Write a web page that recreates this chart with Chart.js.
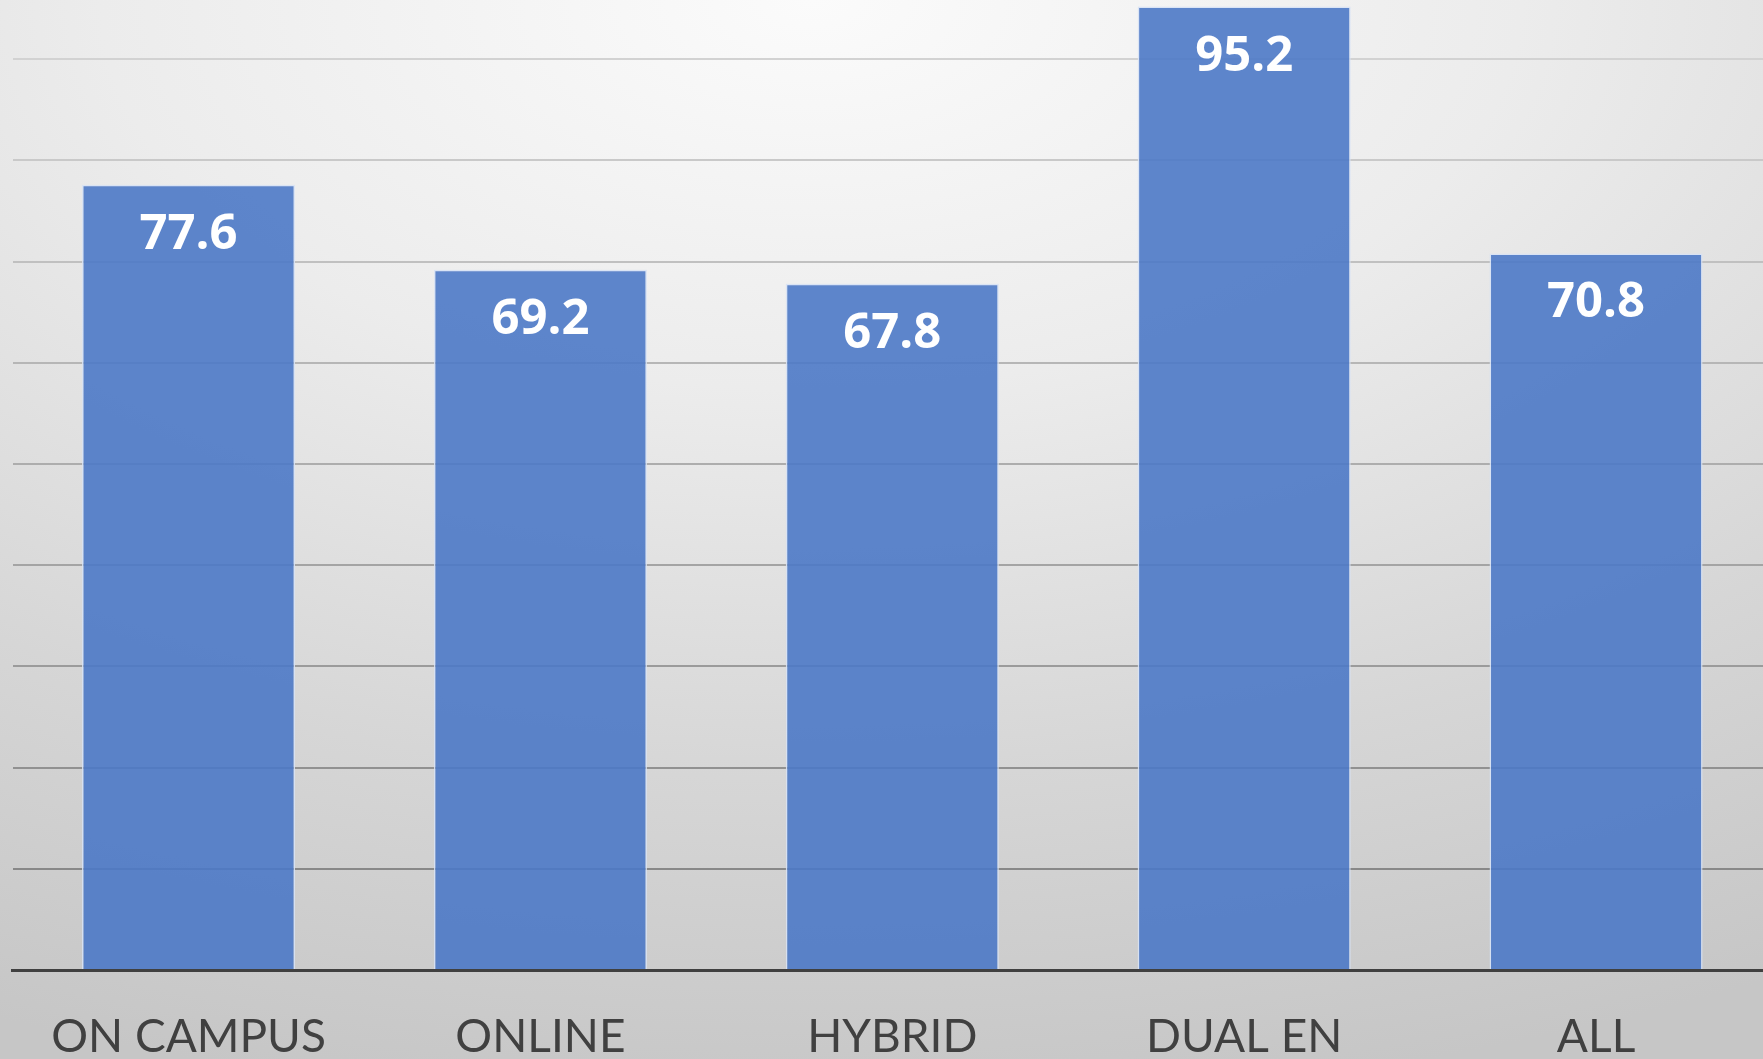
<!DOCTYPE html>
<html>
<head>
<meta charset="utf-8">
<script src="https://cdn.jsdelivr.net/npm/chart.js@4"></script>
<style>
  html, body { margin: 0; padding: 0; width: 1763px; height: 1059px; overflow: hidden; }
  body { background: radial-gradient(ellipse 115% 105% at 46% 0%, #fbfbfb 0%, #ececec 35%, #d6d6d6 70%, #c6c6c6 100%); }
  #wrap { position: absolute; left: 0; top: -42px; width: 1772px; height: 1200px; }
</style>
</head>
<body>
<div id="wrap"><canvas id="c"></canvas></div>
<script>
const categories = ["ON CAMPUS", "ONLINE", "HYBRID", "DUAL EN", "ALL"];
const values = [77.6, 69.2, 67.8, 95.2, 70.8];
const yMin = 0, yMax = 100, yStep = 10;

const valueLabels = {
  id: 'valueLabels',
  afterDatasetsDraw(chart) {
    const ctx = chart.ctx;
    const meta = chart.getDatasetMeta(0);
    ctx.save();
    ctx.fillStyle = '#ffffff';
    ctx.font = 'bold 49px "Open Sans"';
    ctx.textAlign = 'center';
    ctx.textBaseline = 'middle';
    meta.data.forEach((bar, i) => {
      ctx.fillText(chart.data.datasets[0].data[i].toFixed(1), bar.x, bar.y + 50);
    });
    ctx.restore();
  }
};

function gridColor(v) {
  if (v <= 0 || v >= 100) return 'rgba(0,0,0,0)';
  const t = (v - 10) / 80;
  const c = Math.round(0x88 + (0xd2 - 0x88) * t);
  return `rgb(${c},${c},${c})`;
}

new Chart(document.getElementById('c'), {
  type: 'bar',
  data: {
    labels: categories,
    datasets: [{
      data: values,
      backgroundColor: 'rgba(77,121,199,0.9)',
      borderColor: 'rgba(215,226,245,0.9)',
      borderWidth: 1.5,
      barPercentage: 0.6055,
      categoryPercentage: 1.0
    }]
  },
  options: {
    responsive: true,
    maintainAspectRatio: false,
    animation: false,
    layout: { padding: { left: 12.6, right: 0, top: 0, bottom: 0 } },
    plugins: { legend: { display: false }, tooltip: { enabled: false } },
    scales: {
      x: {
        grid: { display: false, drawTicks: false },
        border: { display: true, color: '#404040', width: 3 },
        ticks: { color: '#404040', font: { family: 'Lato', size: 46 }, padding: 40, maxRotation: 0, autoSkip: false },
        afterFit(scale) { scale.height = 188; }
      },
      y: {
        min: yMin, max: yMax,
        ticks: { display: false, stepSize: yStep, padding: 0 },
        grid: { drawTicks: false, lineWidth: 2, color: (ctx) => gridColor(ctx.tick ? ctx.tick.value : 0) },
        border: { display: false },
        afterFit(scale) { scale.width = 0; }
      }
    }
  },
  plugins: [valueLabels]
});
</script>
</body>
</html>
